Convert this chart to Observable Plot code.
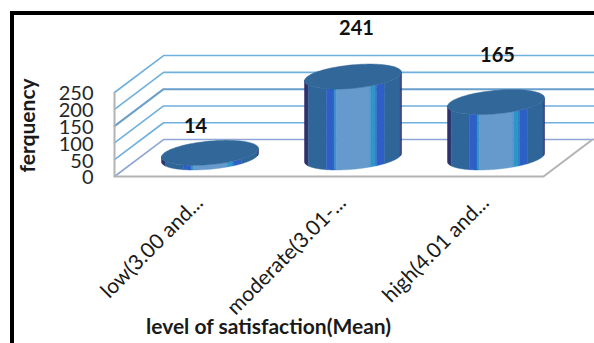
<!DOCTYPE html>
<html>
<head>
<meta charset="utf-8">
<script src="https://cdn.jsdelivr.net/npm/d3@7"></script>
<script src="https://cdn.jsdelivr.net/npm/@observablehq/plot@0.6"></script>
<style>
  html, body { margin: 0; padding: 0; background: #fff; }
  #page { position: relative; width: 594px; height: 343px; overflow: hidden; }
  #page svg { position: absolute; left: 0; top: 0; }
  #corner { position: absolute; left: 10px; top: 11px; right: 0; bottom: 0;
            border-left: 4px solid #000; border-top: 4px solid #000; }
</style>
</head>
<body>
<div id="page"><div id="corner"></div></div>
<script>
const categories = ["low(3.00 and...", "moderate(3.01-...", "high(4.01 and..."];
const frequencies = [14, 241, 165];
const yTicks = [0, 50, 100, 150, 200, 250];
const yTitle = "ferquency";
const xTitle = "level of satisfaction(Mean)";

// Oblique projection of the floor: one unit of depth moves this far in each scale.
const depthX = 0.343, depthY = 110;
const project = (cat, depth, value) => ({x: cat + depth * depthX, y: value + depth * depthY});

// Cylinder cross-section, a circle lying in the floor plane.
const radiusX = 0.319, radiusDepth = 0.337;
const shearX = radiusDepth * depthX, shearY = radiusDepth * depthY;
const halfWidth = Math.hypot(radiusX, shearX), phase = Math.atan2(shearX, radiusX);

// Point on the rim at a horizontal fraction of the half width; side -1 is the near edge.
function rim(i, value, frac, side) {
  const a = Math.acos(Math.max(-1, Math.min(1, frac)));
  const c = project(i + 0.5, 0.5, value);
  return {x: c.x + frac * halfWidth, y: c.y + shearY * Math.sin(phase + side * a)};
}

// Fractions spaced evenly by angle, so the ends of the ellipse stay round.
function sweep(a, b) {
  const from = Math.acos(a), to = Math.acos(b);
  return d3.range(0, 61).map((k) => Math.cos(from + (to - from) * k / 60));
}

// Vertical colour strips of the cylinder walls, as fractions of the half width.
const stripEdges = [-1, -0.92, -0.55, -0.38, -0.34, 0.36, 0.48, 0.65, 0.98, 1];
const stripColors = ["#2e2f6b", "#2f6699", "#2e5fc6", "#2f95c8", "#6699cc", "#2f95c8", "#2e5fc6", "#2f6699", "#2e2f6b"];

const walls = frequencies.flatMap((v, i) =>
  stripColors.map((color, s) =>
    Plot.areaY(sweep(stripEdges[s], stripEdges[s + 1]), {
      x: (f) => rim(i, 0, f, -1).x,
      y1: (f) => rim(i, 0, f, -1).y,
      y2: (f) => rim(i, v, f, -1).y,
      fill: color,
      stroke: color,
      strokeWidth: 0.5
    })
  )
);

const lids = frequencies.map((v, i) =>
  Plot.areaY(sweep(-1, 1), {
    x: (f) => rim(i, v, f, -1).x,
    y1: (f) => rim(i, v, f, -1).y,
    y2: (f) => rim(i, v, f, 1).y,
    fill: "#326799",
    stroke: "#326799",
    strokeWidth: 0.5
  })
);

// Gridlines run up the side wall, then along the back wall.
const gridPath = (t) => [project(0, 0, t), project(0, 1, t), project(3.03, 1, t)];
const gridlines = yTicks.map((t) =>
  Plot.line(gridPath(t), {
    x: "x", y: "y",
    stroke: t === 150 ? "#6a9fcc" : t === 0 ? "#8ea6d6" : "#6fb0de",
    strokeWidth: t === 150 ? 2 : 1.6
  })
);

// Value labels are nudged individually above each cylinder.
const labelShift = [[-15, -27], [3, -48], [1, -47]];
const valueLabels = frequencies.map((v, i) => {
  const c = project(i + 0.5, 0.5, v);
  return Plot.text([String(v)], {
    x: [c.x], y: [c.y], text: (d) => d,
    dx: labelShift[i][0], dy: labelShift[i][1],
    fontSize: 20, fontWeight: 700, fill: "#111"
  });
});

// Slanted category labels end just right of each category's centre.
const labelOffset = 0.095, labelY = -68;

const chart = Plot.plot({
  width: 594,
  height: 343,
  marginLeft: 114,
  marginRight: 51,
  marginTop: 92,
  marginBottom: 167,
  style: {fontFamily: "Lato, sans-serif", background: "transparent", overflow: "visible"},
  x: {type: "linear", domain: [0, 3], axis: null},
  y: {domain: [0, 250], axis: null},
  marks: [
    ...gridlines,
    Plot.line([project(0, 0, 0), project(3, 0, 0), project(3, 1, 0)], {x: "x", y: "y", stroke: "#b3b3b3", strokeWidth: 2}),
    Plot.ruleX([0], {y1: 0, y2: 250, stroke: "#b3b3b3", strokeWidth: 2}),
    ...walls,
    ...lids,
    ...valueLabels,
    Plot.axisY({ticks: yTicks, tickSize: 0, tickPadding: 21, fontSize: 20, label: null, dy: 1.5, color: "#262626"}),
    Plot.text(categories, {
      x: (d, i) => i + 0.5 + labelOffset,
      y: labelY,
      text: (d) => d,
      rotate: -45,
      textAnchor: "end",
      fontSize: 21,
      fill: "#1a1a1a"
    }),
    Plot.text([yTitle], {x: -0.6, y: 152, text: (d) => d, rotate: -90, fontSize: 21, fontWeight: 700, fill: "#1a1a1a"}),
    Plot.text([xTitle], {x: 1.077, y: -450, text: (d) => d, fontSize: 21, fontWeight: 700, fill: "#1a1a1a"})
  ]
});
document.getElementById("page").prepend(chart);
</script>
</body>
</html>
